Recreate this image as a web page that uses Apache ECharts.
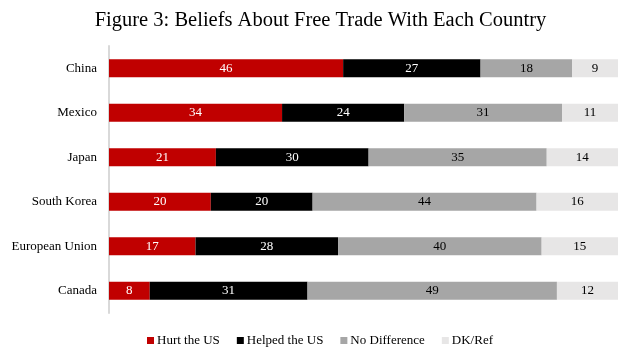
<!DOCTYPE html>
<html><head><meta charset="utf-8">
<script src="https://cdn.jsdelivr.net/npm/echarts@6/dist/echarts.min.js"></script>
<style>html,body{margin:0;padding:0;background:#fff}#c{width:641px;height:361px}</style>
</head><body><div id="c"></div>
<script>
const categories = ['China', 'Mexico', 'Japan', 'South Korea', 'European Union', 'Canada'];
const hurt = [46, 34, 21, 20, 17, 8];
const helped = [27, 24, 30, 20, 28, 31];
const noDiff = [18, 31, 35, 44, 40, 49];
const dkRef = [9, 11, 14, 16, 15, 12];
const seriesNames = ['Hurt the US', 'Helped the US', 'No Difference', 'DK/Ref'];

const font = '"Liberation Serif", "Times New Roman", serif';
const colors = ['#C00000', '#000000', '#A6A6A6', '#E7E6E6'];
const labelColors = ['#ffffff', '#ffffff', '#000000', '#000000'];
const data = [hurt, helped, noDiff, dkRef];

const chart = echarts.init(document.getElementById('c'), null, {renderer: 'canvas'});
chart.setOption({
  animation: false,
  title: {
    text: 'Figure 3: Beliefs About Free Trade With Each Country',
    left: 'center', top: 5,
    textStyle: {fontFamily: font, fontSize: 20.5, fontWeight: 'normal', color: '#000'}
  },
  legend: {
    bottom: 9, left: 142,
    itemWidth: 7, itemHeight: 7, itemGap: 17,
    icon: 'rect',
    textStyle: {fontFamily: font, fontSize: 13, color: '#000', padding: [0, 0, 0, -2]},
    data: seriesNames
  },
  grid: {left: 109, right: 23, top: 46, bottom: 48, containLabel: false},
  xAxis: {
    type: 'value', min: 0, max: 100, show: false
  },
  yAxis: {
    type: 'category', inverse: true, data: categories,
    axisLine: {show: true, lineStyle: {color: '#D9D9D9', width: 2}},
    axisTick: {show: false},
    axisLabel: {fontFamily: font, fontSize: 13, color: '#000', margin: 12}
  },
  series: seriesNames.map((n, i) => ({
    name: n, type: 'bar', stack: 'total', barWidth: 18,
    data: data[i],
    itemStyle: {color: colors[i]},
    label: {show: true, position: 'inside', color: labelColors[i], fontFamily: font, fontSize: 13}
  }))
});
</script></body></html>
